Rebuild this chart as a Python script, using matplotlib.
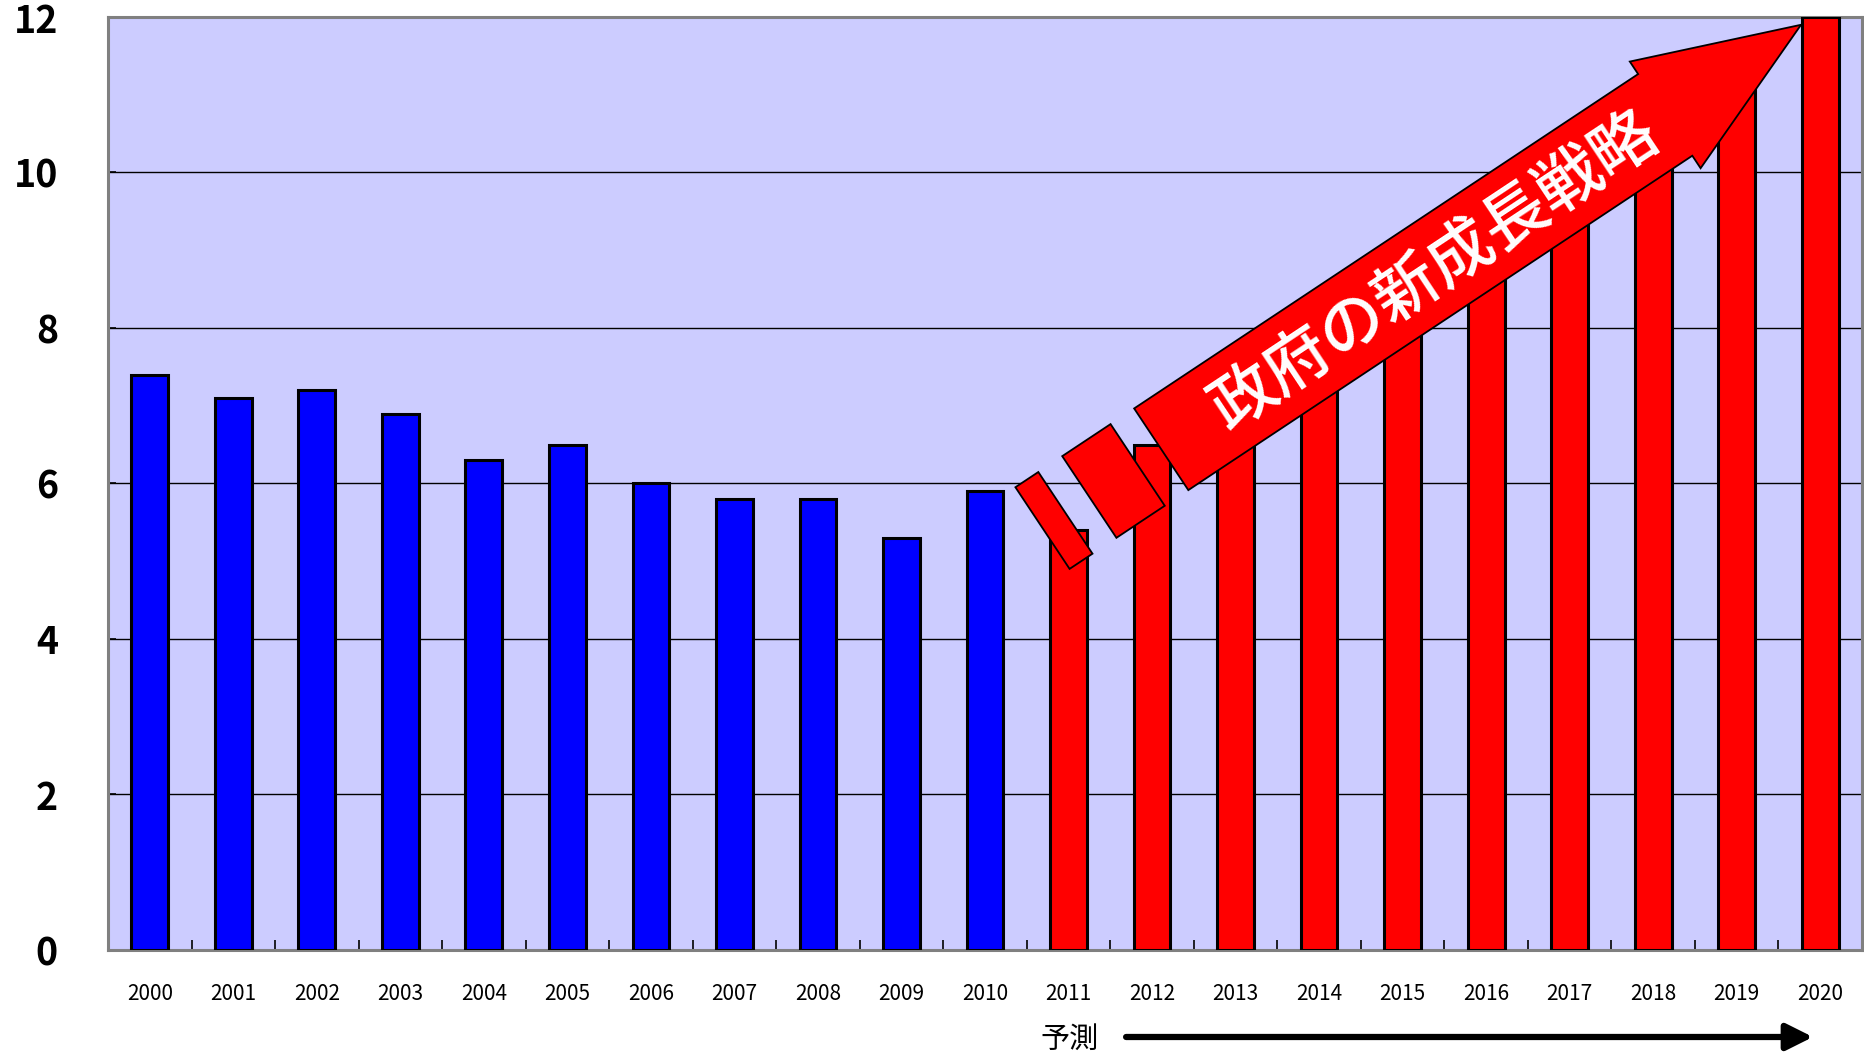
import numpy as np
import matplotlib
matplotlib.use('Agg')
import matplotlib.pyplot as plt
from matplotlib.patches import Polygon

plt.rcParams['font.family'] = ['Noto Sans CJK JP', 'DejaVu Sans']

# data
years = [str(y) for y in range(2000, 2021)]
actual = [7.4, 7.1, 7.2, 6.9, 6.3, 6.5, 6.0, 5.8, 5.8, 5.3, 5.9]        # 2000-2010
forecast = [5.4, 6.5, 7.2, 7.9, 8.6, 9.3, 9.9, 10.6, 11.3, 12.0]      # 2011-2020
yticks = [0, 2, 4, 6, 8, 10, 12]
arrow_text = '政府の新成長戦略'
forecast_label = '予測'

fig = plt.figure(figsize=(18.65, 10.56), dpi=100)
ax = fig.add_axes([0.0579, 0.1004, 0.9405, 0.8835])
ax.set_facecolor('#CCCCFF')

x_act = np.arange(len(actual))
x_fc = np.arange(len(actual), len(actual) + len(forecast))
ax.bar(x_act, actual, width=0.44, color='#0000FF', edgecolor='black', linewidth=2.2, zorder=3)
ax.bar(x_fc, forecast, width=0.44, color='#FF0000', edgecolor='black', linewidth=2.2, zorder=3)

ax.set_xlim(-0.5, len(years) - 0.5)
ax.set_ylim(0, 12)

ax.set_yticks(yticks)
ax.set_yticklabels([str(v) for v in yticks], fontsize=27, fontweight='bold')
ax.tick_params(axis='y', direction='in', length=6, width=1.2, pad=36)
ax.yaxis.grid(True, color='black', linewidth=1)
ax.set_axisbelow(True)

ax.set_xticks(np.arange(len(years)))
ax.set_xticklabels(years, fontsize=15)
ax.tick_params(axis='x', which='major', length=0, pad=24)
ax.set_xticks(np.arange(0.5, len(years) - 1, 1), minor=True)
ax.tick_params(axis='x', which='minor', direction='in', length=7, width=1.2, color='black')

for side in ['left', 'top', 'right', 'bottom']:
    ax.spines[side].set_color('#808080')
    ax.spines[side].set_linewidth(2.2)

# big red arrow (built in pixel space so it keeps its shape)
fig.canvas.draw()
tail = ax.transData.transform((12.11, 6.44))
tip = ax.transData.transform((19.77, 11.9))
u = (tip - tail) / np.hypot(*(tip - tail))
n = np.array([-u[1], u[0]])
L = np.hypot(*(tip - tail))
hw, hh, hl = 49, 64, 163
neck = tail + u * (L - hl)
verts = [tail + n * hw, neck + n * hw, neck + n * hh, tip,
         neck - n * hh, neck - n * hw, tail - n * hw]
to_ax = ax.transAxes.inverted()
ax.add_patch(Polygon(to_ax.transform(verts), closed=True, transform=ax.transAxes,
                     facecolor='#FF0000', edgecolor='black', linewidth=1.3, zorder=5))

# the two broken pieces behind the tail
for s0, s1 in [(-86.3, -28.3), (-142.5, -115.0)]:
    a = tail + u * s0
    b = tail + u * s1
    rect = [a + n * hw, b + n * hw, b - n * hw, a - n * hw]
    ax.add_patch(Polygon(to_ax.transform(rect), closed=True, transform=ax.transAxes,
                         facecolor='#FF0000', edgecolor='black', linewidth=1.3, zorder=5))

angle = np.degrees(np.arctan2(u[1], u[0]))
tc = to_ax.transform([tail + u * 326 - n * 4])[0]
ax.text(tc[0], tc[1], arrow_text, transform=ax.transAxes, rotation=angle,
        rotation_mode='anchor', ha='center', va='center', fontsize=47,
        fontweight='medium', color='white', zorder=6)

# forecast marker below the axis
fig.text(0.5737, 0.0152, forecast_label, fontsize=21, ha='center', va='center')
ax.annotate('', xy=(0.9721, 0.018), xytext=(0.6038, 0.018),
            xycoords='figure fraction', textcoords='figure fraction',
            arrowprops=dict(arrowstyle='-|>', lw=4.5, color='black',
                            mutation_scale=40, shrinkA=0, shrinkB=0))

fig.savefig('out.png', dpi=100)
